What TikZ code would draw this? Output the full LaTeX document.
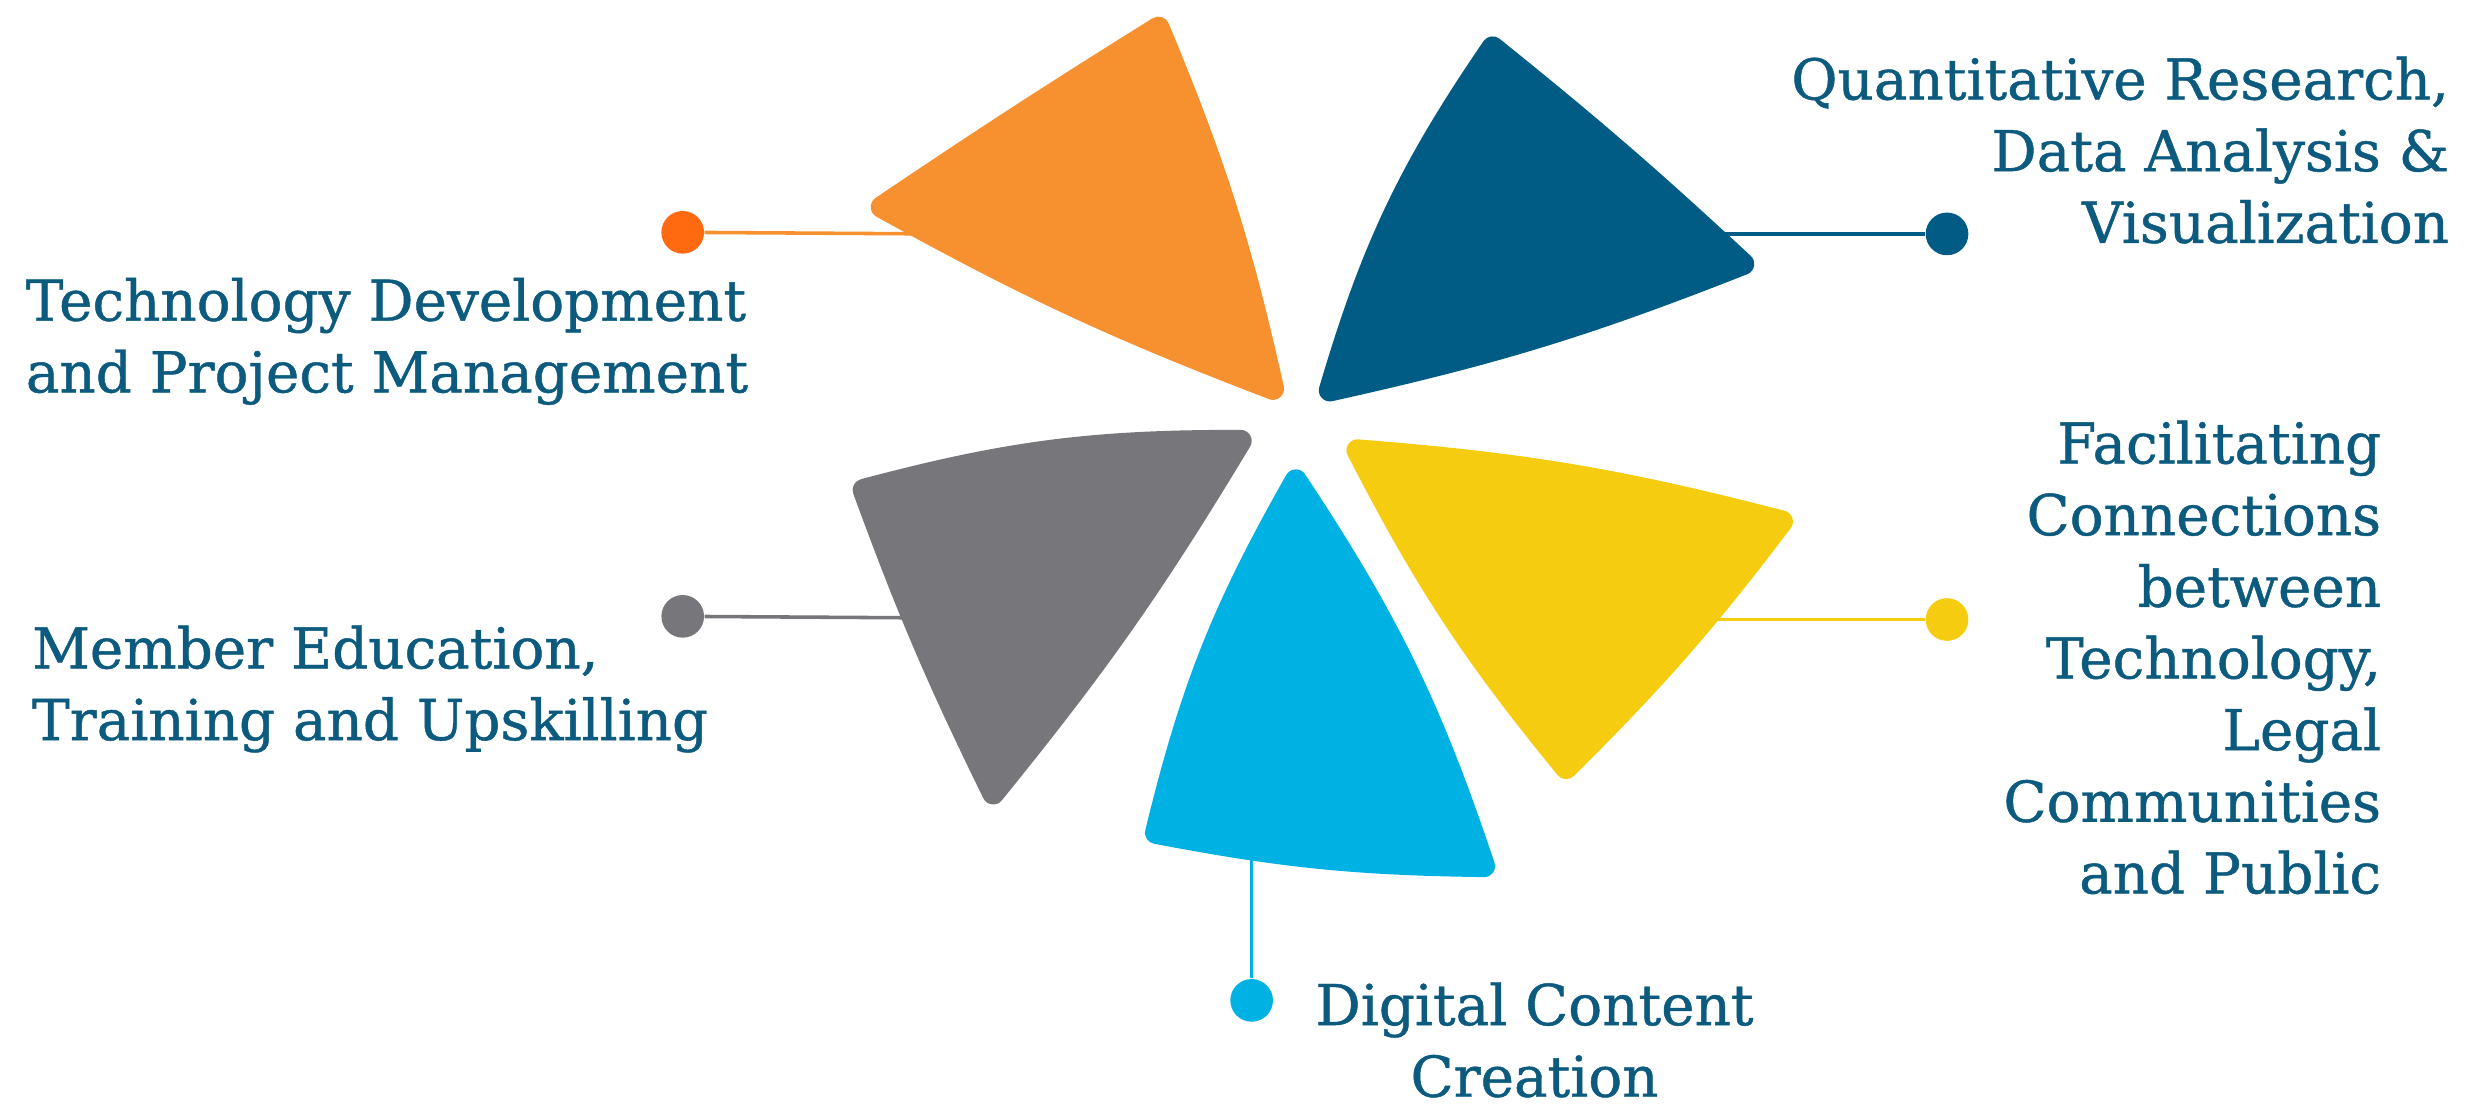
\documentclass[tikz,border=0pt]{standalone}
\usepackage{fontspec}
\setmainfont{DejaVu Serif}[FakeBold=0.8]
\definecolor{ink}{HTML}{0C5A7E}
\definecolor{orangeblade}{HTML}{F7902E}
\definecolor{orangedot}{HTML}{FF6A10}
\definecolor{navyblade}{HTML}{005C84}
\definecolor{greyblade}{HTML}{77777B}
\definecolor{cyanblade}{HTML}{00B2E3}
\definecolor{yellowblade}{HTML}{F5CC0F}
\begin{document}
\begin{tikzpicture}[x=0.2mm,y=-0.2mm,
    blade/.style={fill=#1,draw=#1,line width=2.8mm,line join=round},
    dot/.style={circle,fill=#1,inner sep=0pt,minimum size=5.4mm},
    link/.style={draw=#1,line width=0.45mm},
    lbl/.style={text=ink,inner sep=0pt,font=\fontsize{20.3pt}{25.8pt}\selectfont}]
  \useasboundingbox (0,0) rectangle (1568,701.7);
  % blade corners, inset by the round join
  \draw
    (733,17.5) coordinate (o1)
    (558,131) coordinate (o2)
    (805.5,246) coordinate (o3)
    (944.5,30) coordinate (n1)
    (841.5,247) coordinate (n2)
    (1103,167) coordinate (n3)
    (785,279) coordinate (g1)
    (546.5,310) coordinate (g2)
    (628.5,502) coordinate (g3)
    (820,304) coordinate (c1)
    (731.5,527) coordinate (c2)
    (939,548) coordinate (c3)
    (859,285) coordinate (y1)
    (991,486) coordinate (y2)
    (1127.5,330) coordinate (y3);
  % dots and where the links meet the blades
  \node[dot=orangedot] (od) at (432,147) {};
  \node[dot=navyblade] (nd) at (1232,148) {};
  \node[dot=greyblade] (gd) at (432,390) {};
  \node[dot=cyanblade] (cd) at (792,633) {};
  \node[dot=yellowblade] (yd) at (1232,392) {};
  \coordinate (oe) at (590,148);
  \coordinate (ne) at (1080,148);
  \coordinate (ge) at (590,391);
  \coordinate (ce) at (792,530);
  \coordinate (ye) at (1080,392);
  \begin{scope}[-]
    \draw[link=orangeblade] (od) to (oe);
    \draw[link=navyblade] (nd) to (ne);
    \draw[link=greyblade] (gd) to (ge);
    \draw[link=cyanblade] (cd) to (ce);
    \draw[link=yellowblade] (yd) to (ye);
  \end{scope}
  \filldraw[blade=orangeblade] (o1) to[bend right=1] (o2) to[bend right=4] (o3) to[bend right=5] cycle;
  \filldraw[blade=navyblade] (n1) to[bend right=9] (n2) to[bend right=4.5] (n3) to[bend right=2] cycle;
  \filldraw[blade=greyblade] (g1) to[bend right=7.5] (g2) to[bend right=3] (g3) to[bend right=4] cycle;
  \filldraw[blade=cyanblade] (c1) to[bend right=8] (c2) to[bend right=5] (c3) to[bend right=7.5] cycle;
  \filldraw[blade=yellowblade] (y1) to[bend right=6] (y2) to[bend right=4] (y3) to[bend right=5] cycle;
  % labels
  \node[lbl,anchor=west,align=left] (tech) at (16,216)
    {Technology Development\\and Project Management};
  \node[lbl,anchor=east,align=right] (quant) at (1550,95)
    {Quantitative Research,\\Data Analysis \&\\Visualization};
  \node[lbl,anchor=west,align=left] (member) at (20,436)
    {Member Education,\\Training and Upskilling};
  \node[lbl,anchor=east,align=right] (facil) at (1507,416)
    {Facilitating\\Connections\\between\\Technology,\\Legal\\Communities\\and Public};
  \node[lbl,align=center] (digital) at (971,658)
    {Digital Content\\Creation};
\end{tikzpicture}
\end{document}
